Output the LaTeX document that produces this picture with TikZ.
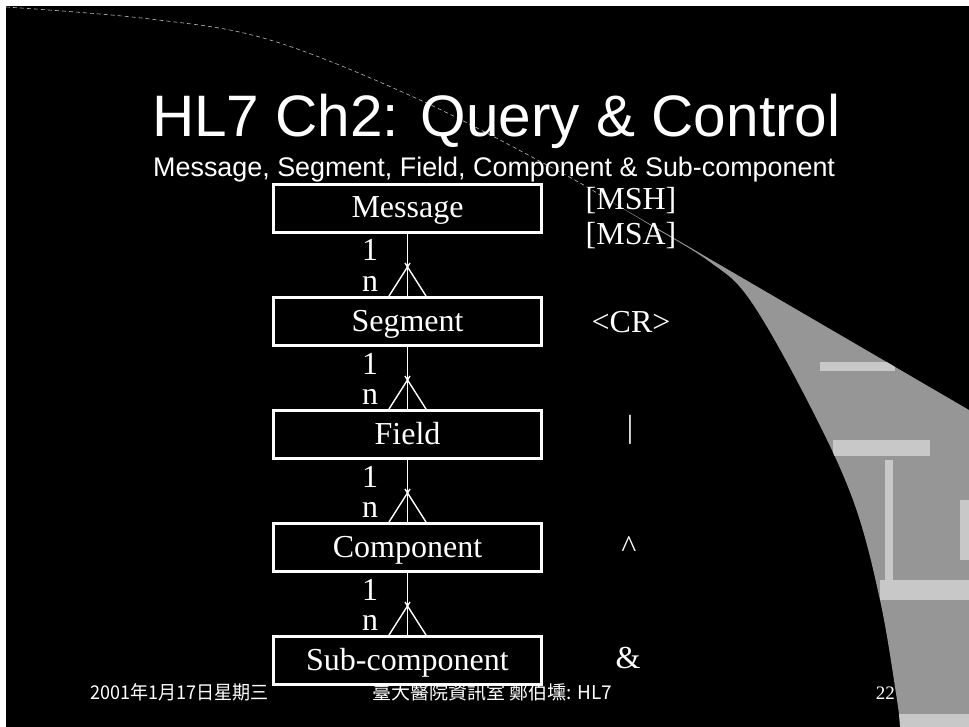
\documentclass[tikz,border=0pt]{standalone}
\usepackage{graphicx}
\usepackage{fontspec}
\setmainfont{Liberation Serif}
\newfontfamily\arialfont{Liberation Sans}
\newfontfamily\cjk{Noto Sans CJK TC}
\usetikzlibrary{calc}
\definecolor{wedgegray}{RGB}{150,150,150}
\definecolor{wedgelight}{RGB}{200,200,200}
\begin{document}
\begin{tikzpicture}[x=1pt,y=-1pt,
  entity/.style={draw=white, line width=3pt, fill=black, text=white,
    minimum width=268pt, minimum height=48pt, inner sep=0pt,
    text height=21pt, text depth=2pt, font=\fontsize{32}{36}\selectfont},
  link/.style={draw=white, line width=1.4pt},
  card/.style={text=white, inner sep=0pt, anchor=base, text depth=0pt, font=\fontsize{32}{36}\selectfont},
  sep/.style={text=white, inner sep=0pt, anchor=base, font=\fontsize{32}{36}\selectfont},
  foot/.style={text=white, inner sep=0pt, anchor=base west, font=\cjk\fontsize{19}{21}\selectfont}]
\useasboundingbox (0,0) rectangle (969,727);
% background
\fill[black] (0,0) rectangle (969,727);
\fill[white] (0,0) rectangle (969,6);
\fill[white] (0,0) rectangle (6,727);
% faint sweeping curve
\draw[gray!55, line width=0.6pt, dash pattern=on 4pt off 3pt]
  plot[smooth, tension=0.6] coordinates {(6,7) (150,19) (270,40) (420,100) (560,172) (600,195)};
% grey wedge
\def\wedgepath{(600,195) -- (969,410) -- (969,727) -- (900,727)
  -- plot[smooth, tension=0.6] coordinates {(900,727) (897,700) (880,600) (853,500) (807,400) (750,300) (710,262) (650,225) (600,195)} -- cycle}
\fill[wedgegray] \wedgepath;
\begin{scope}
  \clip \wedgepath;
  \fill[wedgelight] (820,362) rectangle (895,371);
  \fill[wedgelight] (833,440) rectangle (930,456);
  \fill[wedgelight] (885,460) rectangle (893,580);
  \fill[wedgelight] (880,580) rectangle (969,600);
  \fill[wedgelight] (880,714) rectangle (969,727);
  \fill[wedgelight] (960,500) rectangle (969,560);
\end{scope}
% title
\node[text=white, inner sep=0pt, anchor=base west, font=\arialfont\fontsize{58.5}{62}\selectfont]
  (title) at (152,137) {HL7 Ch2: Query \& Control};
\node[text=white, inner sep=0pt, anchor=base west, font=\arialfont\fontsize{26.9}{30}\selectfont]
  (subtitle) at (153,177) {Message, Segment, Field, Component \& Sub-component};
% entities
\node[entity] (msg)  at (407.5,208.5) {Message};
\node[entity] (seg)  at (407.5,321.5) {Segment};
\node[entity] (fld)  at (407.5,434.5) {Field};
\node[entity] (cmp)  at (407.5,547.5) {Component};
\node[entity] (sub)  at (407.5,660.5) {Sub-component};
% connectors with crow's feet
\foreach \a/\b in {msg/seg, seg/fld, fld/cmp, cmp/sub}{
  \draw[link] (\a.south) -- (\b.north);
  \draw[link] ($(\b.north)+(-18.5,0)$) -- ($(\b.north)+(2.5,-33)$);
  \draw[link] ($(\b.north)+(18.5,0)$) -- ($(\b.north)+(-2.5,-33)$);
  \node[card, text height=21pt] (one-\a) at ($(\a.south)+(-37.5,27)$) {1};
  \node[card, text height=14pt] (n-\b) at ($(\b.north)+(-37.5,-5)$) {n};
}
% separators
\node[sep] (msh) at (631,210) {[MSH]};
\node[sep] (msa) at (631,245) {[MSA]};
\node[sep] (cr) at (631,332) {\textless CR\textgreater};
\node[sep] (bar) at (630,437) {\textbar};
\node[sep] (caret) at (629,557) {\textasciicircum};
\node[sep] (amp) at (628,668) {\&};
% footer
\node[foot] (date) at (90,699) {\scalebox{0.95}[1]{2001年1月17日星期三}};
\node[foot] (org) at (372,699) {臺大醫院資訊室 鄭伯壎: HL7};
\node[text=white, inner sep=0pt, anchor=base east, font=\fontsize{19}{21}\selectfont] (page) at (895,699) {22};
\end{tikzpicture}
\end{document}
